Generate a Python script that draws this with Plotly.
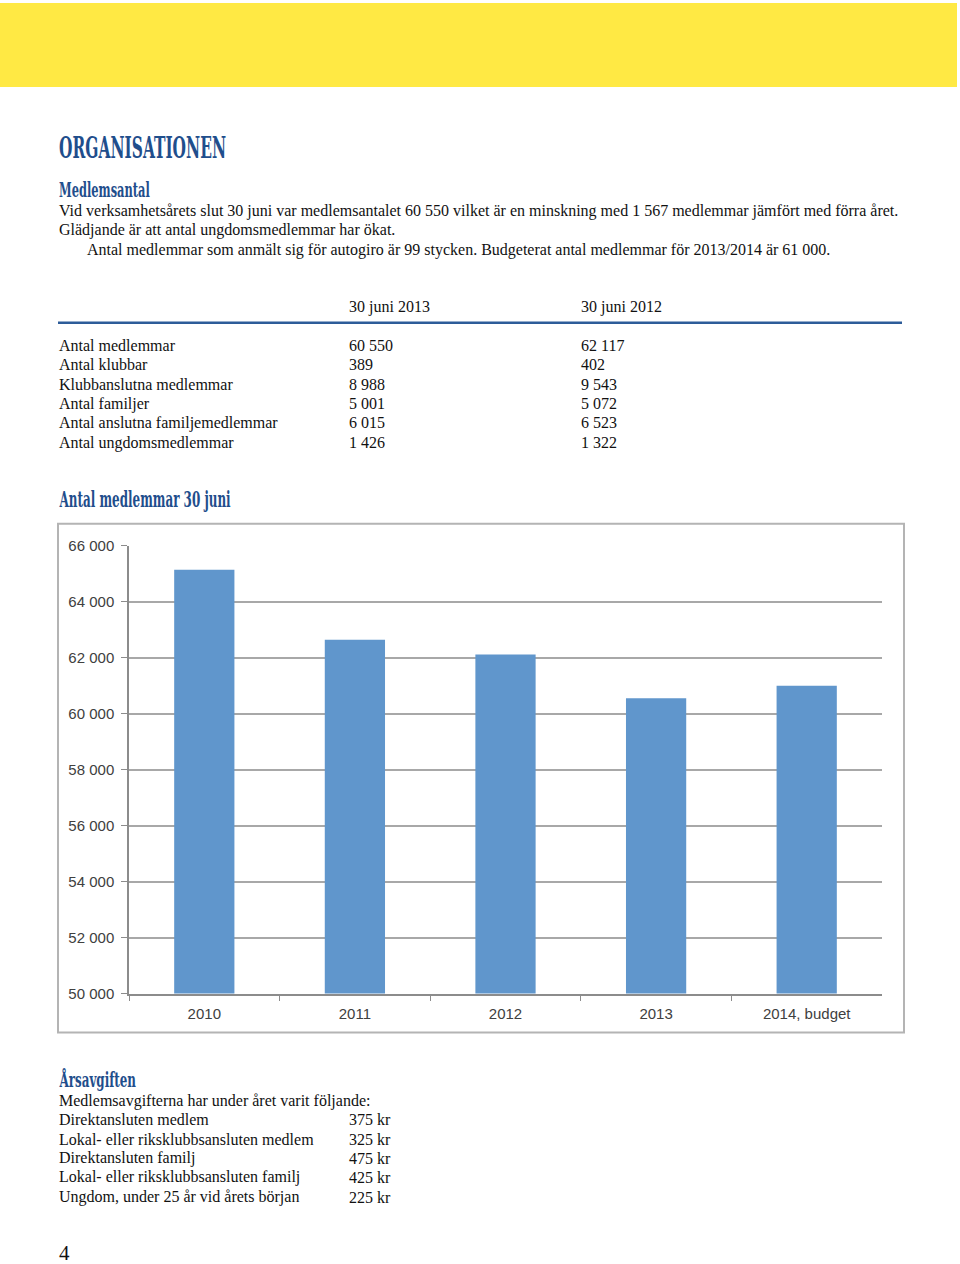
import json
import plotly.graph_objects as go

W, H = 960, 1264

# ---- data ----
years = ["2010", "2011", "2012", "2013", "2014, budget"]
members = [65140, 62640, 62117, 60550, 61000]

table_cols = ["30 juni 2013", "30 juni 2012"]
table_labels = ["Antal medlemmar", "Antal klubbar", "Klubbanslutna medlemmar",
                "Antal familjer", "Antal anslutna familjemedlemmar", "Antal ungdomsmedlemmar"]
table_2013 = ["60 550", "389", "8 988", "5 001", "6 015", "1 426"]
table_2012 = ["62 117", "402", "9 543", "5 072", "6 523", "1 322"]

fee_labels = ["Direktansluten medlem", "Lokal- eller riksklubbsansluten medlem",
              "Direktansluten familj", "Lokal- eller riksklubbsansluten familj",
              "Ungdom, under 25 år vid årets början"]
fee_values = ["375 kr", "325 kr", "475 kr", "425 kr", "225 kr"]

intro_lines = [
    "Vid verksamhetsårets slut 30 juni var medlemsantalet 60 550 vilket är en minskning med 1 567 medlemmar jämfört med förra året.",
    "Glädjande är att antal ungdomsmedlemmar har ökat.",
    "Antal medlemmar som anmält sig för autogiro är 99 stycken. Budgeterat antal medlemmar för 2013/2014 är 61 000.",
]

# ---- helpers ----
# the photographed page shows a slight vertical offset/scale; compensate
V_OFF, V_SCALE = 9.0, 0.987

def px(x):
    return x / W

def py(y):
    yd = (y - V_OFF) / V_SCALE
    return 1 - yd / H

BLUE = "#1f4e8c"
BODY = "Liberation Serif, Georgia, serif"
HEAD = "DejaVu Serif Condensed, DejaVu Serif, serif"
TICKF = "Liberation Sans, Arial, sans-serif"
annotations = []
head_widths = {}

def txt(x, y, s, size=16, family=BODY, color="#111111", weight="normal", anchor="left"):
    annotations.append(dict(
        x=px(x), y=py(y), xref="paper", yref="paper", text=s, showarrow=False,
        xanchor=anchor, yanchor="middle",
        font=dict(size=size, family=family, color=color, weight=weight)))

def heading(x, y, s, size, width):
    txt(x, y, s, size=size, family=HEAD, color=BLUE, weight="bold")
    head_widths[s] = width

# ---- chart ----
fig = go.Figure(go.Bar(x=years, y=members, marker=dict(color="#6096cc", line=dict(width=0)),
                       width=0.4, hoverinfo="x+y"))

fig.update_layout(
    width=W, height=H, margin=dict(l=0, r=0, t=0, b=0),
    paper_bgcolor="white", plot_bgcolor="white", showlegend=False,
    separators=", ",
    xaxis=dict(domain=[px(129), px(882)], type="category", range=[-0.5, 4.5],
               showline=True, linecolor="#8c8c8c", linewidth=1.5,
               ticks="outside", tickson="boundaries", ticklen=6, tickcolor="#8c8c8c",
               ticklabelstandoff=6, showgrid=False,
               tickfont=dict(family=TICKF, size=15, color="#404040")),
    yaxis=dict(domain=[py(994), py(546)], range=[50000, 66000], dtick=2000, tick0=50000,
               tickformat=",d", showline=True, linecolor="#8c8c8c", linewidth=1.5,
               ticks="outside", ticklen=6, tickcolor="#8c8c8c", ticklabelstandoff=4,
               showgrid=True, gridcolor="#a8a8a8", gridwidth=2, zeroline=False,
               tickfont=dict(family=TICKF, size=15, color="#404040")),
)

shapes = [
    dict(type="rect", xref="paper", yref="paper", x0=0, x1=px(957), y0=py(87), y1=py(3),
         fillcolor="#ffe944", line=dict(width=0), layer="below"),
    dict(type="line", xref="paper", yref="paper", x0=px(58), x1=px(902), y0=py(323), y1=py(323),
         line=dict(color="#2d5c99", width=2.5)),
    dict(type="rect", xref="paper", yref="paper", x0=px(58), x1=px(904), y0=py(1033), y1=py(524),
         line=dict(color="#b4b4b4", width=2), fillcolor="rgba(0,0,0,0)", layer="below"),
]
fig.update_layout(shapes=shapes)

# ---- page text ----
heading(57, 148, "ORGANISATIONEN", 29, 167)
heading(57, 190, "Medlemsantal", 20, 91)
txt(57, 211, intro_lines[0])
txt(57, 230, intro_lines[1])
txt(85, 250, intro_lines[2])

txt(347, 307, table_cols[0])
txt(579, 307, table_cols[1])
row_y = [346, 365, 385, 404, 423, 443]
for yy, lab, a, b in zip(row_y, table_labels, table_2013, table_2012):
    txt(57, yy, lab)
    txt(347, yy, a)
    txt(579, yy, b)

heading(57, 499, "Antal medlemmar 30 juni", 22, 172)

heading(57, 1080, "Årsavgiften", 20, 77)
txt(57, 1101, "Medlemsavgifterna har under året varit följande:")
fee_y = [1120, 1140, 1159, 1178, 1198]
for yy, lab, v in zip(fee_y, fee_labels, fee_values):
    txt(57, yy, lab)
    txt(347, yy, v)

txt(57, 1254, "4", size=21)

fig.update_layout(annotations=annotations)

post = """
var st = document.createElement('style');
st.textContent = 'html,body{margin:0;padding:0;background:#fff}';
document.head.appendChild(st);
var targets = TARGETS;
document.querySelectorAll('.annotation-text').forEach(function(t){
  var w = targets[t.textContent];
  if (w) {
    var bb = t.getBBox();
    if (bb.width > 0) {
      t.style.transformBox = 'fill-box';
      t.style.transformOrigin = '0% 50%';
      t.style.transform = 'scaleX(' + (w / bb.width) + ')';
    }
  }
});
""".replace("TARGETS", json.dumps(head_widths, ensure_ascii=False))

fig.write_html("out.html", post_script=post, config={"displayModeBar": False})
